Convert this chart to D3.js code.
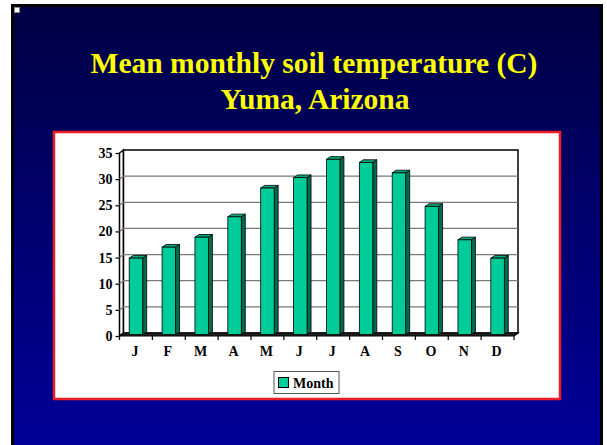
<!DOCTYPE html>
<html>
<head>
<meta charset="utf-8">
<script src="https://cdn.jsdelivr.net/npm/d3@7"></script>
<style>
  body { margin: 0; background: #fff; }
  svg { display: block; }
  text { font-family: "Liberation Serif", "Times New Roman", serif; font-weight: bold; }
</style>
</head>
<body>
<svg id="chart" width="607" height="445"></svg>
<script>
// data
var months = ["J", "F", "M", "A", "M", "J", "J", "A", "S", "O", "N", "D"];
var temps = [14.7, 16.8, 18.7, 22.6, 28.1, 30.1, 33.6, 33.0, 31.0, 24.6, 18.2, 14.7];
var yTicks = [0, 5, 10, 15, 20, 25, 30, 35];
var seriesName = "Month";

var svg = d3.select("#chart");

// slide background
var defs = svg.append("defs");
var grad = defs.append("linearGradient")
    .attr("id", "bg")
    .attr("x1", 0).attr("y1", 0).attr("x2", 0).attr("y2", 1);
grad.append("stop").attr("offset", "0%").attr("stop-color", "#000044");
grad.append("stop").attr("offset", "100%").attr("stop-color", "#00009a");

svg.append("rect")
    .attr("x", 12.5).attr("y", 5.5)
    .attr("width", 589).attr("height", 445)
    .attr("fill", "url(#bg)")
    .attr("stroke", "#000")
    .attr("stroke-width", 3);

svg.append("rect")
    .attr("x", 14.5).attr("y", 7.5)
    .attr("width", 5).attr("height", 5)
    .attr("fill", "#fff")
    .attr("stroke", "#888")
    .attr("stroke-width", 1);

// title
var title = svg.append("text")
    .attr("text-anchor", "middle")
    .attr("fill", "#ffff00")
    .style("font-size", "29.5px");
title.append("tspan").attr("x", 314).attr("y", 73).text("Mean monthly soil temperature (C)");
title.append("tspan").attr("x", 315).attr("y", 109).text("Yuma, Arizona");

// white chart panel
svg.append("rect")
    .attr("x", 54).attr("y", 132)
    .attr("width", 506).attr("height", 267)
    .attr("fill", "#fff")
    .attr("stroke", "#ee1c24")
    .attr("stroke-width", 2.5);

// scales (front plane)
var x = d3.scaleBand().domain(d3.range(months.length)).range([119.5, 514]).padding(0);
var y = d3.scaleLinear().domain([0, 35]).range([336, 153]);
var dx = 4, dy = 3;   // depth offset of back wall

var g = svg.append("g");

// left side wall
g.append("path")
    .attr("d", "M" + x.range()[0] + "," + y(0) + "L" + x.range()[0] + "," + y(35) +
        "L" + (x.range()[0] + dx) + "," + (y(35) - dy) + "L" + (x.range()[0] + dx) + "," + (y(0) - dy) + "Z")
    .attr("fill", "#fff")
    .attr("stroke", "#000")
    .attr("stroke-width", 1.5);

// back wall
g.append("rect")
    .attr("x", x.range()[0] + dx).attr("y", y(35) - dy)
    .attr("width", x.range()[1] - x.range()[0]).attr("height", y(0) - y(35))
    .attr("fill", "#fff")
    .attr("stroke", "#000")
    .attr("stroke-width", 1.5);

// gridlines
g.selectAll(".grid")
    .data(yTicks.slice(1, -1))
    .enter().append("path")
    .attr("class", "grid")
    .attr("d", function (d) {
        return "M" + x.range()[0] + "," + y(d) + "L" + (x.range()[0] + dx) + "," + (y(d) - dy) +
            "L" + (x.range()[1] + dx) + "," + (y(d) - dy);
    })
    .attr("fill", "none")
    .attr("stroke", "#7a7a7a")
    .attr("stroke-width", 1.3);

// floor
g.append("path")
    .attr("d", "M" + x.range()[0] + "," + y(0) + "L" + x.range()[1] + "," + y(0) +
        "L" + (x.range()[1] + dx) + "," + (y(0) - dy) + "L" + (x.range()[0] + dx) + "," + (y(0) - dy) + "Z")
    .attr("fill", "#222")
    .attr("stroke", "#000")
    .attr("stroke-width", 1.2);

// y axis ticks and labels
var yAxis = d3.axisLeft(y).tickValues(yTicks).tickSize(4).tickPadding(3);
var ya = g.append("g")
    .attr("transform", "translate(" + x.range()[0] + ",0)")
    .call(yAxis);
ya.select(".domain").remove();
ya.selectAll("line").attr("stroke", "#000").attr("stroke-width", 1.2);
ya.selectAll("text")
    .attr("fill", "#000")
    .style("font-size", "14px")
    .style("font-family", "Liberation Serif, serif")
    .style("font-weight", "bold");

// x axis ticks and labels
var xAxis = d3.axisBottom(x).tickSize(0).tickPadding(10).tickFormat(function (i) { return months[i]; });
var xa = g.append("g")
    .attr("transform", "translate(-1," + y(0) + ")")
    .call(xAxis);
xa.select(".domain").remove();
xa.selectAll("text")
    .attr("fill", "#000")
    .style("font-size", "14px")
    .style("font-family", "Liberation Serif, serif")
    .style("font-weight", "bold");

g.selectAll(".xtick")
    .data(d3.range(months.length + 1))
    .enter().append("line")
    .attr("class", "xtick")
    .attr("x1", function (i) { return x.range()[0] + i * x.step(); })
    .attr("x2", function (i) { return x.range()[0] + i * x.step(); })
    .attr("y1", y(0))
    .attr("y2", y(0) + 4)
    .attr("stroke", "#000")
    .attr("stroke-width", 1.2);

// 3D bars
var bw = x.bandwidth() * 0.41;
var bdx = 4, bdy = 2.7;
var bars = g.selectAll(".bar")
    .data(temps)
    .enter().append("g")
    .attr("class", "bar");

function barX(i) { return x(i) + x.bandwidth() / 2 - bw / 2; }
function barTop(d) { return y(d) - 1; }
var barBase = y(0) - 1.5;

bars.append("path")
    .attr("d", function (d, i) {
        var x0 = barX(i) + bw;
        return "M" + x0 + "," + barTop(d) + "L" + (x0 + bdx) + "," + (barTop(d) - bdy) +
            "L" + (x0 + bdx) + "," + (barBase - bdy) + "L" + x0 + "," + barBase + "Z";
    })
    .attr("fill", "#006b4f")
    .attr("stroke", "#000")
    .attr("stroke-width", 0.8);

bars.append("path")
    .attr("d", function (d, i) {
        var x0 = barX(i);
        return "M" + x0 + "," + barTop(d) + "L" + (x0 + bdx) + "," + (barTop(d) - bdy) +
            "L" + (x0 + bw + bdx) + "," + (barTop(d) - bdy) + "L" + (x0 + bw) + "," + barTop(d) + "Z";
    })
    .attr("fill", "#00a87c")
    .attr("stroke", "#000")
    .attr("stroke-width", 0.8);

bars.append("rect")
    .attr("x", function (d, i) { return barX(i); })
    .attr("y", function (d) { return barTop(d); })
    .attr("width", bw)
    .attr("height", function (d) { return barBase - barTop(d); })
    .attr("fill", "#00cc99")
    .attr("stroke", "#000")
    .attr("stroke-width", 0.8);

// legend
var lg = svg.append("g");
lg.append("rect")
    .attr("x", 274).attr("y", 371.5)
    .attr("width", 65).attr("height", 22)
    .attr("fill", "#fff")
    .attr("stroke", "#555")
    .attr("stroke-width", 1);
lg.append("rect")
    .attr("x", 278.5).attr("y", 377.5)
    .attr("width", 10).attr("height", 10)
    .attr("fill", "#00cc99")
    .attr("stroke", "#000")
    .attr("stroke-width", 1);
lg.append("text")
    .attr("x", 293).attr("y", 388)
    .attr("fill", "#000")
    .style("font-size", "14px")
    .text(seriesName);
</script>
</body>
</html>
